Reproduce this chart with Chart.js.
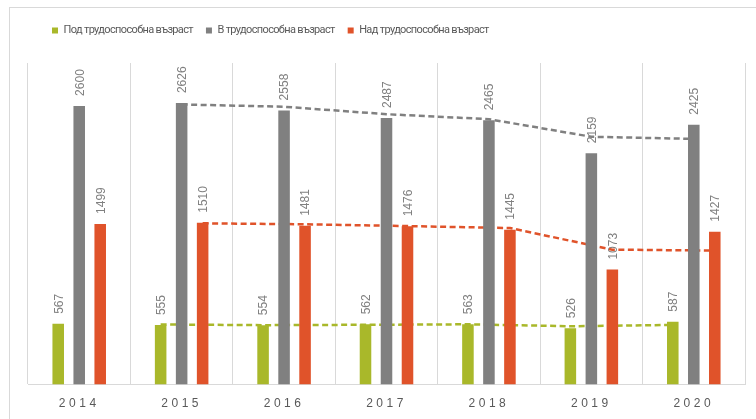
<!DOCTYPE html>
<html>
<head>
<meta charset="utf-8">
<script src="https://cdn.jsdelivr.net/npm/chart.js@4.4.1/dist/chart.umd.min.js"></script>
<style>
  html, body { margin: 0; padding: 0; background: #fff; }
  #wrap { width: 756px; height: 419px; position: relative; }
</style>
</head>
<body>
<div id="wrap"><canvas id="chart" width="756" height="419"></canvas></div>
<script>
// Data
const years = ['2014', '2015', '2016', '2017', '2018', '2019', '2020'];
const seriesNames = ['Под трудоспособна възраст', 'В трудоспособна възраст', 'Над трудоспособна възраст'];
const underAge = [567, 555, 554, 562, 563, 526, 587];
const workingAge = [2600, 2626, 2558, 2487, 2465, 2159, 2425];
const overAge = [1499, 1510, 1481, 1476, 1445, 1073, 1427];
// dashed trend lines (2-period moving average)
const underTrend = [null, 561, 554.5, 558, 562.5, 544.5, 556.5];
const workingTrend = [null, 2613, 2592, 2522.5, 2476, 2312, 2292];
const overTrend = [null, 1504.5, 1495.5, 1478.5, 1460.5, 1259, 1250];

const colors = ['#a9b82a', '#808080', '#e0532a'];
const CAT_PCT = 0.615;
const BAR_PCT = 0.55;

// bars and lines share one hidden linear axis so grouping stays at 3 per year
function barPoints(values) {
    return values.map((v, i) => ({ x: i, y: v }));
}

// trend points sit over each series' own bar in the group
function trendPoints(values, k) {
    const off = (k - 1) * CAT_PCT / 3;
    return values.map((v, i) => v == null ? null : { x: i + off, y: v }).filter(p => p);
}

function barSet(label, data, k) {
    return {
        type: 'bar', label, data: barPoints(data), xAxisID: 'xt',
        backgroundColor: colors[k], borderWidth: 0,
        categoryPercentage: CAT_PCT, barPercentage: BAR_PCT,
        order: 1
    };
}

function trendSet(values, k) {
    return {
        type: 'line', label: 'trend' + k, data: trendPoints(values, k), xAxisID: 'xt',
        borderColor: colors[k], borderWidth: 2.5,
        borderDash: [6, 3.5], pointRadius: 0, fill: false, tension: 0,
        order: 2
    };
}

// value labels rotated above bars, drawn under the trend lines
const valueLabels = {
    id: 'valueLabels',
    beforeDatasetsDraw(chart) {
        const ctx = chart.ctx;
        ctx.save();
        ctx.font = '12px "Liberation Sans", Arial, sans-serif';
        ctx.fillStyle = '#808080';
        ctx.textAlign = 'left';
        ctx.textBaseline = 'middle';
        const sources = [underAge, workingAge, overAge];
        for (let d = 0; d < 3; d++) {
            const meta = chart.getDatasetMeta(d);
            meta.data.forEach((bar, i) => {
                ctx.save();
                ctx.translate(bar.x + 1, bar.y - 10);
                ctx.rotate(-Math.PI / 2);
                ctx.fillText(String(sources[d][i]), 0, 0);
                ctx.restore();
            });
        }
        ctx.restore();
    }
};

// frame, legend spacing and spaced-out year labels
const frame = {
    id: 'frame',
    beforeInit(chart) {
        const lg = chart.legend;
        const fit = lg.fit.bind(lg);
        const draw = lg.draw.bind(lg);
        lg.fit = function () {
            this.ctx.letterSpacing = '-0.65px';
            fit();
            this.ctx.letterSpacing = '0px';
            this.height += 17;
        };
        lg.draw = function () {
            const ctx = this.ctx;
            ctx.save();
            ctx.translate(11, 0);
            ctx.letterSpacing = '-0.65px';
            draw();
            ctx.restore();
            ctx.letterSpacing = '0px';
        };
    },
    beforeDraw(chart) {
        const ctx = chart.ctx;
        ctx.save();
        ctx.strokeStyle = '#d9d9d9';
        ctx.lineWidth = 1;
        ctx.strokeRect(9.5, 7.5, 800, 500);
        ctx.restore();
        const xs = chart.scales.x;
        if (!xs._spaced) {
            const orig = xs.drawLabels;
            xs.drawLabels = function (area) {
                this.ctx.letterSpacing = '3.5px';
                orig.call(this, area);
                this.ctx.letterSpacing = '0px';
            };
            xs._spaced = true;
        }
    }
};

new Chart(document.getElementById('chart'), {
    data: {
        labels: years,
        datasets: [
            barSet(seriesNames[0], underAge, 0),
            barSet(seriesNames[1], workingAge, 1),
            barSet(seriesNames[2], overAge, 2),
            trendSet(underTrend, 0),
            trendSet(workingTrend, 1),
            trendSet(overTrend, 2)
        ]
    },
    options: {
        responsive: false,
        animation: false,
        layout: { padding: { top: 12, left: 28, right: 11, bottom: -4 } },
        plugins: {
            tooltip: { enabled: false },
            legend: {
                position: 'top',
                align: 'start',
                labels: {
                    boxWidth: 6, boxHeight: 6, padding: 13,
                    color: '#595959',
                    font: { family: 'Roboto, "Liberation Sans", sans-serif', size: 11 },
                    filter: item => item.datasetIndex < 3
                }
            }
        },
        scales: {
            x: {
                type: 'category',
                offset: true,
                grid: { display: true, offset: true, color: '#d9d9d9', drawTicks: false },
                border: { display: true, color: '#d9d9d9' },
                ticks: {
                    padding: 12, color: '#595959',
                    font: { family: '"Liberation Sans", Arial, sans-serif', size: 12 }
                }
            },
            xt: {
                type: 'linear', display: false, min: -0.5, max: 6.5, offset: false,
                ticks: { stepSize: 1 }
            },
            y: {
                display: false, min: 0, max: 3000
            }
        }
    },
    plugins: [valueLabels, frame]
});
</script>
</body>
</html>
